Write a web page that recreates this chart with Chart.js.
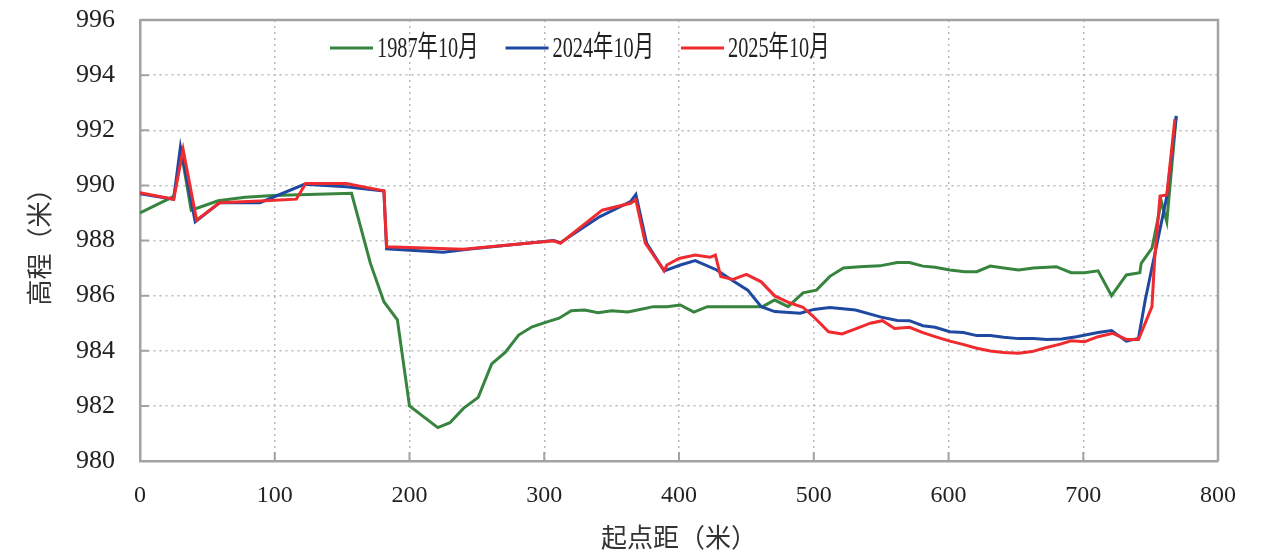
<!DOCTYPE html>
<html lang="zh">
<head>
    <meta charset="UTF-8">
    <title>起点距-高程 断面图</title>
    <script src="https://cdn.jsdelivr.net/npm/chart.js@4.4.1/dist/chart.umd.min.js"></script>
    <style>
        body { margin: 0; background: #fff; }
        #wrap { width: 1277px; height: 556px; }
    </style>
</head>
<body>
    <div id="wrap"><canvas id="profileChart" width="1277" height="556"></canvas></div>

    <script>
        // 1987年10月
        const dist1987 = [0, 25, 31, 38, 58, 78, 99, 157, 171, 181, 191, 200, 221, 230, 240, 251, 261, 271, 281, 291,
            301, 311, 320, 330, 340, 350, 362, 371, 381, 391, 401, 411, 421, 462, 471, 481, 492, 502, 512, 522, 534,
            549, 562, 571, 581, 590, 601, 612, 621, 631, 641, 652, 663, 680, 691, 701, 711, 721, 732, 742, 743,
            751, 758, 762, 769];
        const elev1987 = [989.0, 989.6, 991.1, 989.1, 989.44, 989.57, 989.63, 989.71, 987.17, 985.78, 985.12, 982.0, 981.21, 981.39, 981.91, 982.31, 983.52, 983.94, 984.57, 984.87,
            985.03, 985.18, 985.45, 985.48, 985.38, 985.45, 985.41, 985.5, 985.6, 985.6, 985.66, 985.4, 985.6, 985.6, 985.84, 985.6, 986.1, 986.2, 986.7, 987.0, 987.05,
            987.08, 987.2, 987.2, 987.07, 987.03, 986.93, 986.87, 986.87, 987.07, 987.0, 986.93, 987.0, 987.05, 986.83, 986.83, 986.9, 986.0, 986.75, 986.83, 987.17,
            987.72, 989.41, 988.68, 992.49];

        // 2024年10月
        const dist2024 = [0, 25, 30, 41, 59, 89, 122, 153, 181, 183, 225, 245, 307, 312, 341, 364, 368, 376, 389, 401,
            412, 428, 440, 451, 461, 471, 490, 500, 512, 531, 550, 562, 571, 581, 590, 601, 611, 621, 631, 641,
            652, 663, 673, 684, 695, 711, 721, 732, 741, 746, 762, 769];
        const elev2024 = [989.7, 989.5, 991.4, 988.68, 989.37, 989.37, 990.04, 989.95, 989.8, 987.7, 987.57, 987.69, 988.0, 987.92, 988.86, 989.41, 989.67, 987.9, 986.9, 987.11,
            987.27, 986.93, 986.54, 986.2, 985.6, 985.42, 985.36, 985.5, 985.57, 985.48, 985.22, 985.1, 985.09, 984.91, 984.85, 984.69, 984.66, 984.55, 984.55, 984.49,
            984.44, 984.44, 984.41, 984.43, 984.51, 984.66, 984.73, 984.35, 984.45, 985.84, 989.59, 992.52];

        // 2025年10月
        const dist2025 = [0, 25, 32, 42, 59, 89, 116, 123, 153, 181, 183, 240, 307, 312, 343, 364, 368, 375, 389, 391,
            400, 412, 423, 427, 431, 440, 450, 461, 471, 482, 492, 501, 511, 521, 532, 542, 551, 560, 571, 581,
            590, 601, 610, 621, 631, 641, 652, 662, 672, 683, 691, 701, 711, 722, 732, 741, 751, 753, 757, 762, 768];
        const elev2025 = [989.73, 989.5, 991.3, 988.74, 989.37, 989.43, 989.5, 990.07, 990.07, 989.8, 987.77, 987.68, 987.99, 987.9, 989.1, 989.35, 989.47, 987.9, 986.9, 987.11,
            987.35, 987.47, 987.39, 987.47, 986.69, 986.59, 986.77, 986.5, 985.99, 985.74, 985.58, 985.18, 984.69, 984.61, 984.81, 985.0, 985.09, 984.81, 984.85, 984.66,
            984.51, 984.35, 984.24, 984.09, 983.99, 983.94, 983.91, 983.97, 984.11, 984.24, 984.36, 984.33, 984.51, 984.63, 984.41, 984.41, 985.6, 987.35, 989.61, 989.65, 992.4];

        const seriesLabels = ['1987年10月', '2024年10月', '2025年10月'];
        const seriesColors = ['#37843f', '#1f48a0', '#ef2b2f'];

        const xMin = 0, xMax = 800, xStep = 100;
        const yMin = 980, yMax = 996, yStep = 2;

        const axisGray = '#a3a3a6';
        const serif = "'Liberation Serif', 'Times New Roman', 'Noto Sans CJK SC', serif";
        const cjk = "'Noto Sans CJK SC', 'Liberation Serif', sans-serif";

        function toPoints(xs, ys) {
            return xs.map((x, i) => ({ x: x, y: ys[i] }));
        }

        // box on top/right, plus short tick marks pointing into the plot
        const frame = {
            id: 'frame',
            beforeDatasetsDraw(chart) {
                const { ctx, chartArea: a, scales } = chart;
                ctx.save();
                ctx.strokeStyle = axisGray;
                ctx.lineWidth = 2.5;
                ctx.beginPath();
                ctx.moveTo(a.left, a.top);
                ctx.lineTo(a.right, a.top);
                ctx.lineTo(a.right, a.bottom);
                ctx.stroke();

                ctx.lineWidth = 2;
                ctx.beginPath();
                scales.y.ticks.forEach(t => {
                    const py = scales.y.getPixelForValue(t.value);
                    ctx.moveTo(a.left, py);
                    ctx.lineTo(a.left + 9, py);
                });
                scales.x.ticks.forEach(t => {
                    const px = scales.x.getPixelForValue(t.value);
                    ctx.moveTo(px, a.bottom);
                    ctx.lineTo(px, a.bottom - 9);
                });
                ctx.stroke();
                ctx.restore();
            }
        };

        // legend drawn inside the plot, text condensed like the original
        const insideLegend = {
            id: 'insideLegend',
            afterDraw(chart) {
                const { ctx } = chart;
                const y = 48;
                const squeeze = 0.7;
                let x = 330;
                ctx.save();
                ctx.font = '29px ' + serif;
                ctx.textBaseline = 'middle';
                ctx.fillStyle = '#222';
                chart.data.datasets.forEach(ds => {
                    ctx.strokeStyle = ds.borderColor;
                    ctx.lineWidth = 3;
                    ctx.beginPath();
                    ctx.moveTo(x, y);
                    ctx.lineTo(x + 43, y);
                    ctx.stroke();
                    x += 47;
                    const w = ctx.measureText(ds.label).width * squeeze;
                    ctx.save();
                    ctx.translate(x, y + 1);
                    ctx.scale(squeeze, 1);
                    ctx.fillText(ds.label, 0, 0);
                    ctx.restore();
                    x += w + 27;
                });
                ctx.restore();
            }
        };

        function makeDataset(i, xs, ys, order) {
            return {
                label: seriesLabels[i],
                data: toPoints(xs, ys),
                borderColor: seriesColors[i],
                backgroundColor: seriesColors[i],
                borderWidth: 3,
                pointRadius: 0,
                tension: 0,
                fill: false,
                order: order
            };
        }

        window.onload = function () {
            const ctx = document.getElementById('profileChart').getContext('2d');
            new Chart(ctx, {
                type: 'line',
                data: {
                    datasets: [
                        makeDataset(0, dist1987, elev1987, 3),
                        makeDataset(1, dist2024, elev2024, 2),
                        makeDataset(2, dist2025, elev2025, 1)
                    ]
                },
                options: {
                    responsive: false,
                    animation: false,
                    devicePixelRatio: 1,
                    layout: { padding: { top: 20, right: 59, left: 0, bottom: 0 } },
                    plugins: {
                        legend: { display: false },
                        tooltip: { enabled: false }
                    },
                    scales: {
                        x: {
                            type: 'linear',
                            min: xMin,
                            max: xMax,
                            afterFit: s => { s.height = 95; },
                            ticks: {
                                stepSize: xStep,
                                padding: 20,
                                color: '#222',
                                font: { family: serif, size: 24 }
                            },
                            grid: {
                                color: '#b9b9b9',
                                lineWidth: 1.5,
                                drawTicks: false
                            },
                            border: { color: axisGray, width: 2.5, dash: [2, 4] },
                            title: {
                                display: true,
                                text: '起点距（米）',
                                color: '#333',
                                font: { family: cjk, size: 26 },
                                padding: { top: 0, bottom: 3 }
                            }
                        },
                        y: {
                            min: yMin,
                            max: yMax,
                            afterFit: s => {
                                s.width = 140;
                                s.paddingTop = 0;
                                s.paddingBottom = 0;
                            },
                            ticks: {
                                stepSize: yStep,
                                padding: 25,
                                color: '#222',
                                font: { family: serif, size: 26 }
                            },
                            grid: {
                                color: '#b9b9b9',
                                lineWidth: 1.5,
                                drawTicks: false
                            },
                            border: { color: axisGray, width: 2.5, dash: [2, 4] },
                            title: {
                                display: true,
                                text: '高程（米）',
                                color: '#333',
                                font: { family: cjk, size: 26 },
                                padding: { top: 24, bottom: 0 }
                            }
                        }
                    }
                },
                plugins: [frame, insideLegend]
            });
        };
    </script>
</body>
</html>
